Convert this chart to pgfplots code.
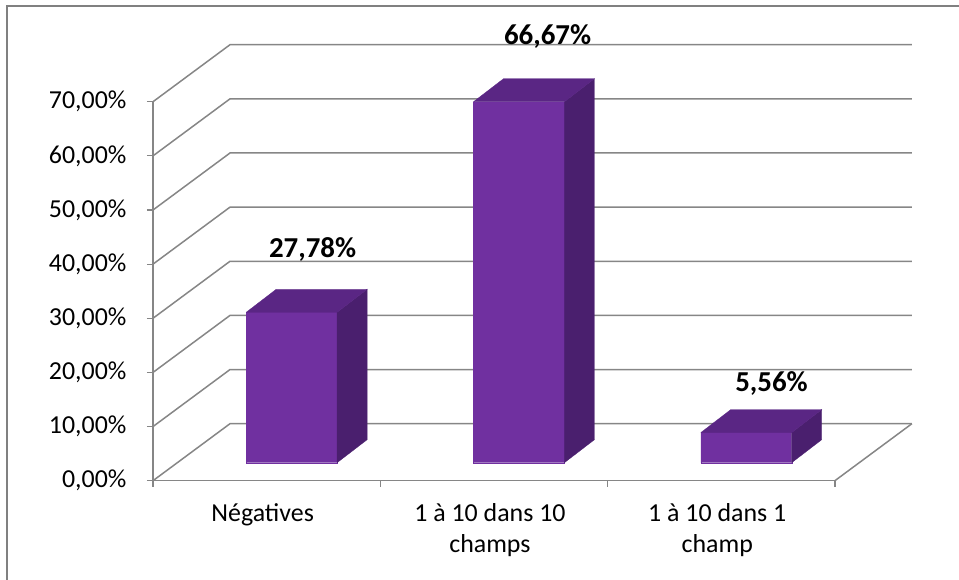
\documentclass[border=0pt]{standalone}
\usepackage{fontspec}
\setmainfont{Carlito}
\usepackage{pgfplots}
\usepackage{pgfplotstable}
\pgfplotsset{compat=1.18}

\definecolor{barfront}{RGB}{112,48,160}
\definecolor{bartop}{RGB}{90,38,132}
\definecolor{barside}{RGB}{74,31,110}
\definecolor{gridgray}{RGB}{134,134,134}
\definecolor{framegray}{RGB}{128,128,128}

% category index, share in percent, offset of the value label
\pgfplotstableread{
x v dx dy
0 27.78 0.202 15.0
1 66.67 0.236 15.4
2 5.56 0.221 12.4
}\bars

% oblique depth axis, in axis units
\def\wallx{0.3388}\def\wally{10.53}   % back wall
\def\frontx{0.110}\def\fronty{3.325}  % front face of a bar
\def\deepx{0.132}\def\deepy{4.25}     % depth of a bar
\def\halfw{0.20}                       % half width of a bar

\begin{document}
\begin{tikzpicture}
\path[use as bounding box] (0,0) rectangle (959bp,580bp);
\draw[framegray, line width=2bp] (7bp,0) -- (7bp,574bp) -- (959bp,574bp);
\begin{axis}[
  at={(153bp,99.3bp)}, anchor=south west,
  scale only axis, x=227.3bp, y=5.414bp,
  xmin=-0.5, xmax=2.85, ymin=0, ymax=84,
  axis lines*=left, axis line style={draw=none},
  clip=false,
  tick align=outside, major tick length=6bp,
  tick style={gridgray, line width=1.2bp},
  tick label style={font=\fontsize{26}{31}\selectfont, text=black},
  ytick={0,10,20,30,40,50,60,70},
  yticklabels={{0,00\%},{10,00\%},{20,00\%},{30,00\%},{40,00\%},{50,00\%},{60,00\%},{70,00\%}},
  yticklabel style={xshift=-17bp},
  xtick={-0.5,0.5,1.5,2.5}, xticklabels={},
  extra x ticks={0,1,2},
  extra x tick labels={Négatives,1 à 10 dans 10\\champs,1 à 10 dans 1\\champ},
  extra x tick style={major tick length=0pt,
    xticklabel style={align=center, xshift=-4bp, yshift=-19bp}},
  gridline/.style={gridgray, line width=1.5bp, forget plot},
  face/.style={draw=#1, fill=#1, line width=0.3bp, forget plot},
]
% walls and floor
\pgfplotsinvokeforeach{0,10,20,30,40,50,60,70}{
  \pgfmathsetmacro\yw{#1+\wally}
  \pgfmathsetmacro\xw{-0.5+\wallx}
  \pgfmathsetmacro\xe{2.5+\wallx}
  \edef\tmp{\noexpand\addplot[gridline] coordinates {(-0.5,#1) (\xw,\yw) (\xe,\yw)};}
  \tmp
}
\addplot[gridline] coordinates {(2.5,0) (2.5+\wallx,\wally)};
\addplot[gridline] coordinates {(-0.5,0) (2.5,0)};
\addplot[gridline] coordinates {(-0.5,0) (-0.5,70)};

% 3D bars: front, side and top faces
\pgfplotsinvokeforeach{0,1,2}{
  \pgfplotstablegetelem{#1}{v}\of\bars
  \let\val\pgfplotsretval
  \pgfmathsetmacro\xa{#1-\halfw+\frontx}
  \pgfmathsetmacro\xb{#1+\halfw+\frontx}
  \pgfmathsetmacro\xc{\xa+\deepx}
  \pgfmathsetmacro\xd{\xb+\deepx}
  \pgfmathsetmacro\ya{\fronty}
  \pgfmathsetmacro\yb{\fronty+\val}
  \pgfmathsetmacro\yc{\ya+\deepy}
  \pgfmathsetmacro\yd{\yb+\deepy}
  \edef\tmp{%
    \noexpand\addplot[face=barfront] coordinates {(\xa,\ya) (\xb,\ya) (\xb,\yb) (\xa,\yb) (\xa,\ya)};
    \noexpand\addplot[face=barside] coordinates {(\xb,\ya) (\xd,\yc) (\xd,\yd) (\xb,\yb) (\xb,\ya)};
    \noexpand\addplot[face=bartop] coordinates {(\xa,\yb) (\xb,\yb) (\xd,\yd) (\xc,\yd) (\xa,\yb)};
  }
  \tmp
}

% value labels
\addplot[draw=none, mark=none, point meta=explicit,
  nodes near coords={\pgfmathprintnumber[fixed,fixed zerofill,precision=2,use comma,assume math mode=true]{\pgfplotspointmeta}\%},
  nodes near coords style={anchor=center, text=black, font=\bfseries\fontsize{29}{34}\selectfont}]
  table[x expr=\thisrow{x}+\thisrow{dx}, y expr=\thisrow{v}+\thisrow{dy}, meta=v] {\bars};
\end{axis}
\end{tikzpicture}
\end{document}
